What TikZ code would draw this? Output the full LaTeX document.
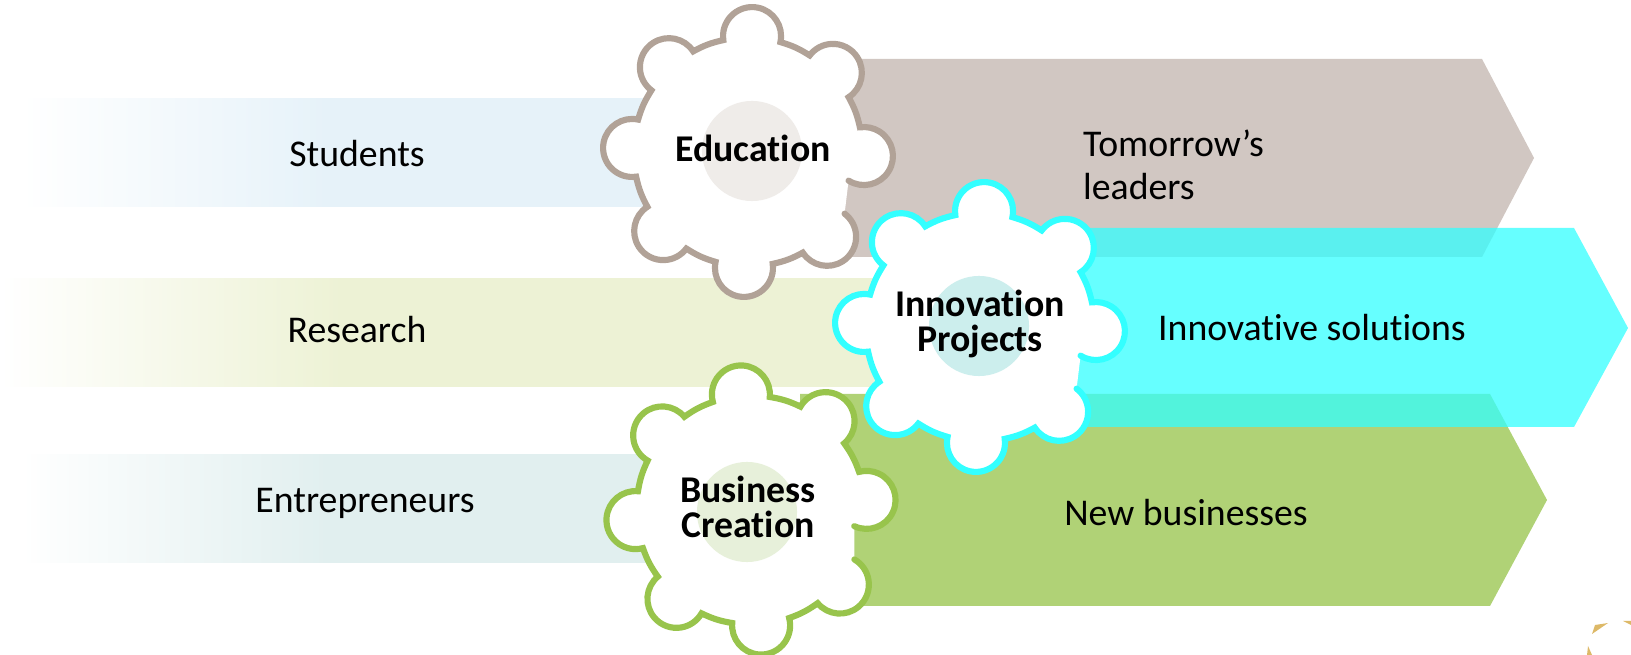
\documentclass[tikz,border=0pt]{standalone}
\usepackage{fontspec}
\setmainfont[Ligatures=NoCommon]{Carlito}
\usepackage{tikz}
\usetikzlibrary{calc}
\definecolor{stonedark}{HTML}{B1A297}
\definecolor{stonefill}{HTML}{D1C7C2}
\definecolor{stonecore}{HTML}{EFECE9}
\definecolor{aqua}{HTML}{33FFFF}
\definecolor{aquacore}{HTML}{CCEEED}
\definecolor{leafdark}{HTML}{98C44C}
\definecolor{leaffill}{HTML}{B0D276}
\definecolor{leafcore}{HTML}{E7F0DA}
\definecolor{bandblue}{HTML}{E6F2F9}
\definecolor{bandlime}{HTML}{EDF2D5}
\definecolor{bandteal}{HTML}{E1EFEF}
\definecolor{gold}{HTML}{DDB968}
% the path covers 25bp to 75bp of a shading
\pgfdeclarehorizontalshading{fadeblue}{100bp}{color(0bp)=(white); color(25bp)=(white); color(49bp)=(bandblue); color(100bp)=(bandblue)}
\pgfdeclarehorizontalshading{fadelime}{100bp}{color(0bp)=(white); color(25bp)=(white); color(44bp)=(bandlime); color(100bp)=(bandlime)}
\pgfdeclarehorizontalshading{fadeteal}{100bp}{color(0bp)=(white); color(25bp)=(white); color(49bp)=(bandteal); color(100bp)=(bandteal)}
\tikzstyle{gear} = [line width=3.5pt, fill=white, line cap=round, line join=miter]
\tikzstyle{core} = [circle, minimum size=2.86cm * 0.7, inner sep=0pt]
\tikzstyle{plain} = [font=\fontsize{21.5}{24.5}\selectfont]
\tikzstyle{heavy} = [font=\fontsize{21.5}{20}\selectfont\bfseries, align=center]
\newcommand{\drawgear}[4]{%
  \draw[gear, draw=#4, shift={(#1,#2)}] ($({#3}:116)+({#3-120}:29)$)
    arc[start angle=#3-120, end angle=#3+100, radius=29]
    \foreach \k [evaluate=\k as \a using #3+45*\k] in {1,...,7} {
      to[bend right=8] ($(\a:116)+({\a-100}:29)$)
      arc[start angle=\a-100, end angle=\a+100, radius=29]
    };
}

\begin{document}
\begin{tikzpicture}[x=0.02cm, y=0.02cm]
    \useasboundingbox (0,0) rectangle (1631,655);
    % outcome arrows
    \fill[stonefill] (800,596) -- (1482,596) -- (1534,497) -- (1482,398) -- (800,398) -- cycle;
    \fill[leaffill] (800,261) -- (1490,261) -- (1547,155) -- (1490,49) -- (800,49) -- cycle;
    % input bands
    \shade[shading=fadeblue] (21,448) rectangle (660,556.5);
    \shade[shading=fadelime] (0,268) rectangle (900,376.5);
    \shade[shading=fadeteal] (21,92) rectangle (660,200.5);
    \fill[aqua, opacity=0.75] (1000,427) -- (1574,427) -- (1628,327) -- (1574,228) -- (1000,228) -- cycle;
    % gears
    \drawgear{748}{503}{-2}{stonedark}
    \drawgear{751}{145}{5}{leafdark}
    \drawgear{980}{328}{-2}{aqua}
    \node (edu) [core, fill=stonecore] at (752,504) {};
    \node (inno) [core, fill=aquacore] at (979,329) {};
    \node (biz) [core, fill=leafcore] at (747,143) {};
    \node (edulabel) [heavy] at (753,507) {Education};
    \node (innolabel) [heavy] at (980,331) {Innovation\\Projects};
    \node (bizlabel) [heavy] at (748,148) {Business\\Creation};
    % left and right labels
    \node (students) [plain] at (357,501) {Students};
    \node (research) [plain] at (357,325) {Research};
    \node (entre) [plain] at (365,152) {Entrepreneurs};
    \node (leaders) [plain, align=left, anchor=west] at (1077,490) {Tomorrow’s\\leaders};
    \node (solutions) [plain] at (1312,327) {Innovative solutions};
    \node (newbiz) [plain] at (1186,142) {New businesses};
    % corner fragment
    \fill[gold] (1592,21) -- (1595,30) -- (1608,32) -- cycle;
    \fill[gold] (1587,0) -- (1588,9) -- (1592,0) -- cycle;
    \fill[gold] (1623,34) -- (1631,34) -- (1631,30) -- cycle;
\end{tikzpicture}
\end{document}
